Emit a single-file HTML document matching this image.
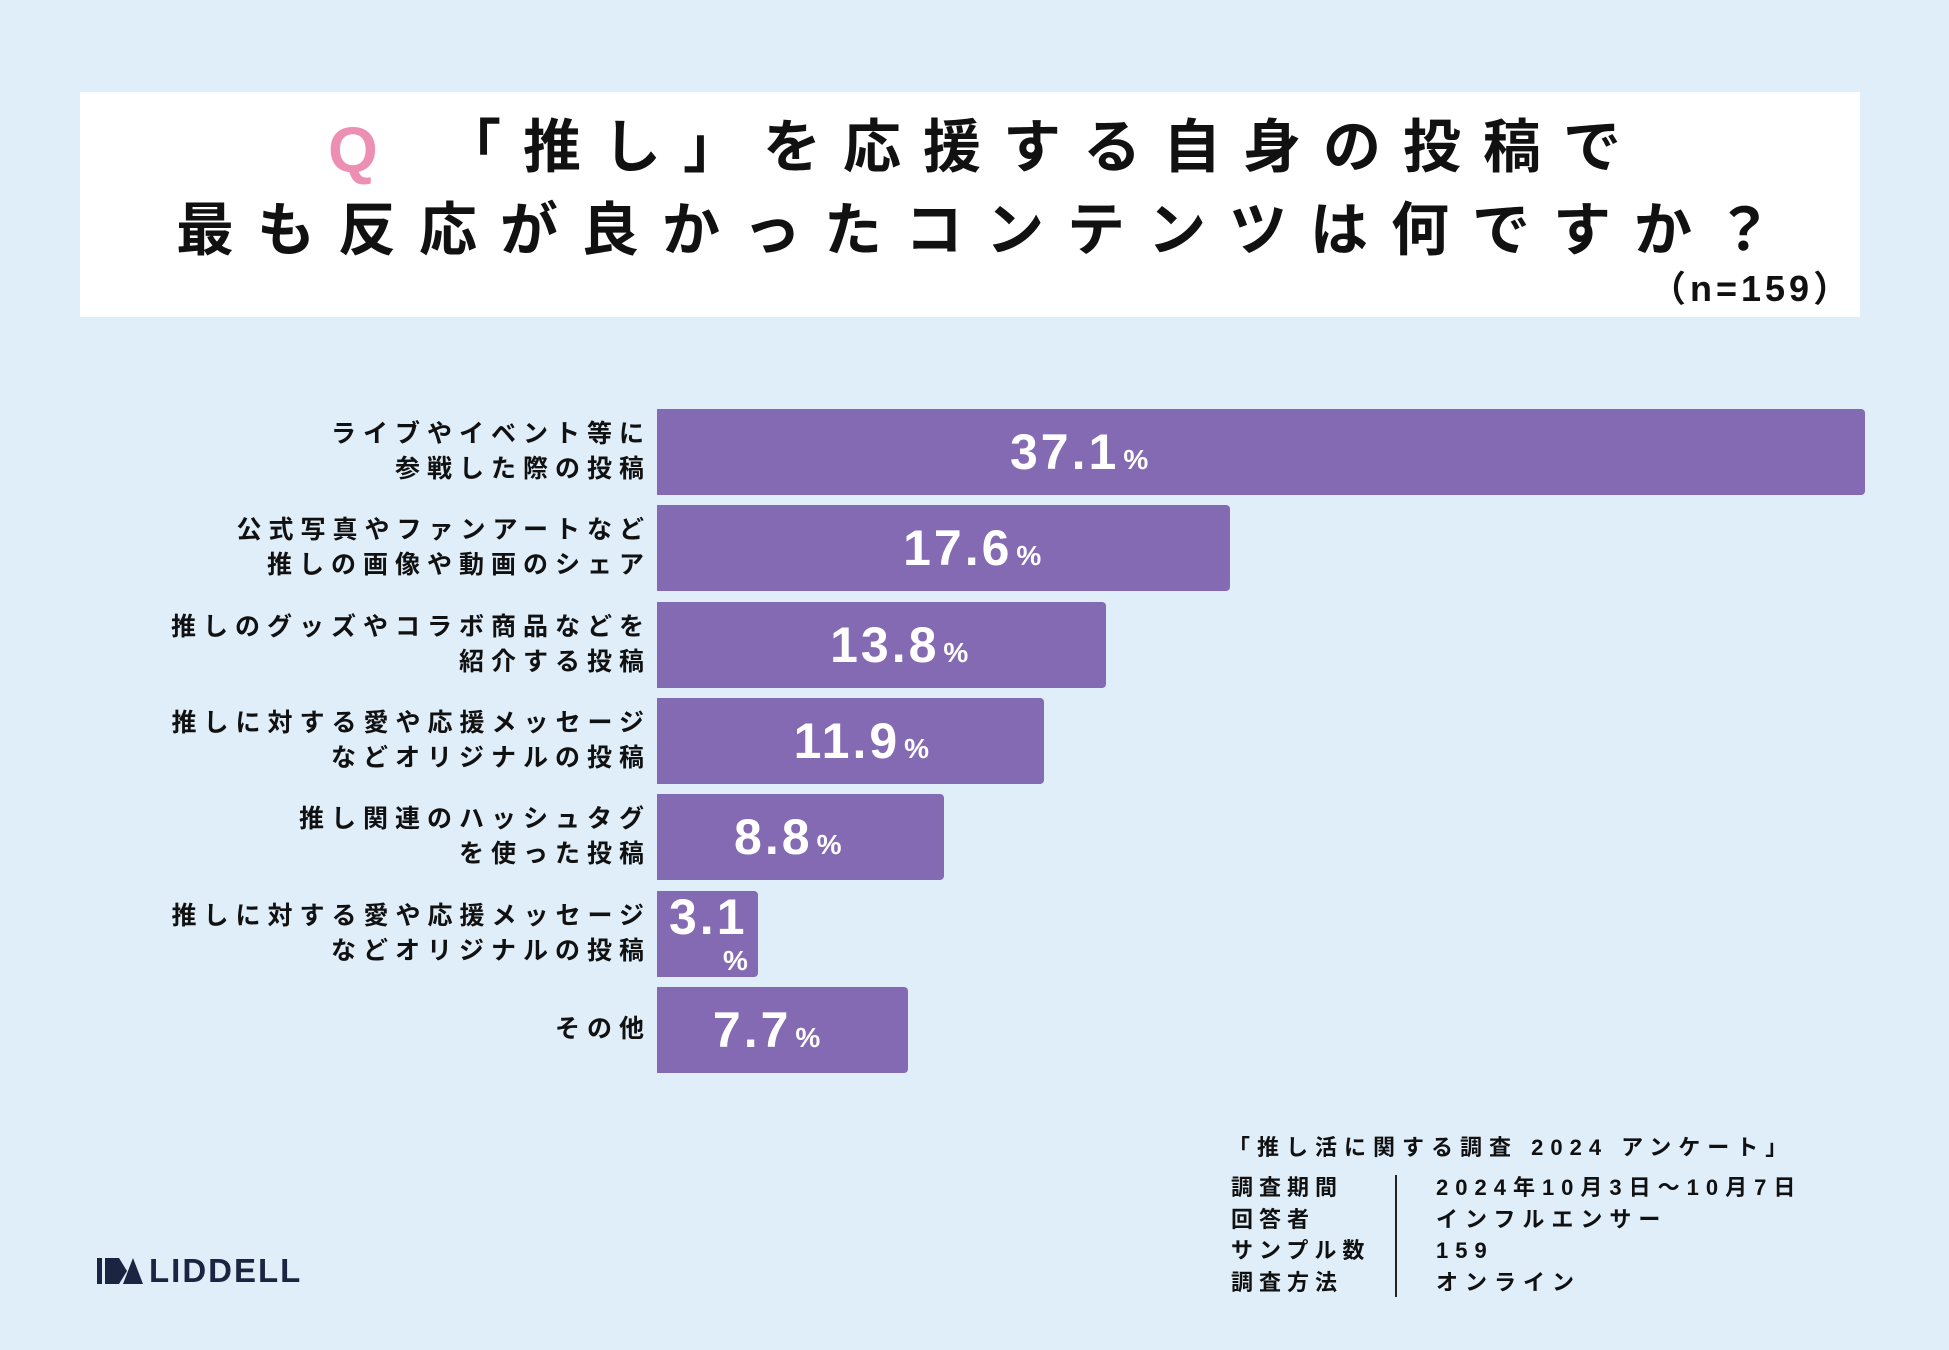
<!DOCTYPE html>
<html><head><meta charset="utf-8">
<style>
body{margin:0;width:1949px;height:1350px;background:#e0eef9;position:relative;overflow:hidden;font-family:"Liberation Sans","Noto Sans CJK JP",sans-serif;font-weight:bold;color:#111}
.t{position:absolute;white-space:nowrap}
#title{position:absolute;left:80px;top:92px;width:1780px;height:225px;background:#fff}
.lab{position:absolute;right:1305px;text-align:right;font-size:25px;letter-spacing:7px;line-height:35px;white-space:nowrap;margin-right:-7px}
.bar{position:absolute;left:657px;height:86px;background:#8469b3;border-radius:0 4px 4px 0}
.val{position:absolute;color:#fff;font-family:"Liberation Sans","Noto Sans CJK JP",sans-serif;font-size:50px;letter-spacing:3px;white-space:nowrap}
.val small{font-size:28px;letter-spacing:0;margin-left:4px}
.ft{font-size:22px;letter-spacing:6px}
</style></head><body>
<div id="title"></div>
<div class="t" style="left:328px;top:113px;font-size:64px;color:#ec8fb3;font-family:'Liberation Sans',sans-serif">Q</div>
<div class="t" style="left:443px;top:113px;font-size:58px;letter-spacing:22px;line-height:70px">「推し」を応援する自身の投稿で</div>
<div class="t" style="left:176px;top:196px;font-size:58px;letter-spacing:23px;line-height:70px">最も反応が良かったコンテンツは何ですか？</div>
<div class="t" style="left:1650px;top:260px;font-size:36px;letter-spacing:4px">（n=159）</div>
<div id="chart"></div>
<div class="t ft" style="left:1228px;top:1130px;letter-spacing:7px">「推し活に関する調査 2024 アンケート」</div>
<div class="t" style="left:1395px;top:1175px;width:2px;height:122px;background:#222"></div>
<div class="t ft" style="left:1231px;top:1172px;line-height:31.5px">調査期間<br>回答者<br>サンプル数<br>調査方法</div>
<div class="t ft" style="left:1436px;top:1172px;line-height:31.5px;letter-spacing:7px">2024年10月3日〜10月7日<br>インフルエンサー<br>159<br>オンライン</div>
<div class="t" style="left:97px;top:1256px;height:30px">
<svg width="48" height="30" style="position:absolute;left:0;top:0"><polygon points="0,2 5,2 5,28 0,28" fill="#1b2440"/><polygon points="8,2 22,2 30,15 22,28 8,28" fill="#1b2440"/><polygon points="26,28 36,2 46,28" fill="#1b2440"/></svg>
<span style="position:absolute;left:52px;top:-4px;font-size:33px;color:#1b2440;font-family:'Liberation Sans',sans-serif;letter-spacing:2px">LIDDELL</span></div>
<script>
const categories=[["ライブやイベント等に","参戦した際の投稿"],["公式写真やファンアートなど","推しの画像や動画のシェア"],["推しのグッズやコラボ商品などを","紹介する投稿"],["推しに対する愛や応援メッセージ","などオリジナルの投稿"],["推し関連のハッシュタグ","を使った投稿"],["推しに対する愛や応援メッセージ","などオリジナルの投稿"],["その他"]];
const values=[37.1,17.6,13.8,11.9,8.8,3.1,7.7];
const x=v=>v*32.56;
const y=i=>409+i*96.3;
const c=document.getElementById('chart');
values.forEach((v,i)=>{
 const b=document.createElement('div');b.className='bar';
 
 
 b.style.top=y(i)+'px';b.style.width=x(v)+'px';c.appendChild(b);
 const l=document.createElement('div');l.className='lab';
 
 
 l.innerHTML=categories[i].join('<br>');
 l.style.top=(y(i)+43-categories[i].length*17.5)+'px';c.appendChild(l);
 const t=document.createElement('div');t.className='val';
 
 
 const w=x(v);
 if(w<140){t.innerHTML=v.toFixed(1)+'<br><small style="margin-left:54px">%</small>';t.style.lineHeight='36px';t.style.left=(657+12)+'px';t.style.top=(y(i)+8)+'px';}
 else{t.innerHTML=v.toFixed(1)+'<small>%</small>';t.style.left=(657+Math.min(0.59*w-92,353))+'px';t.style.top=(y(i)+14)+'px';}
 c.appendChild(t);
});
</script>
</body></html>
